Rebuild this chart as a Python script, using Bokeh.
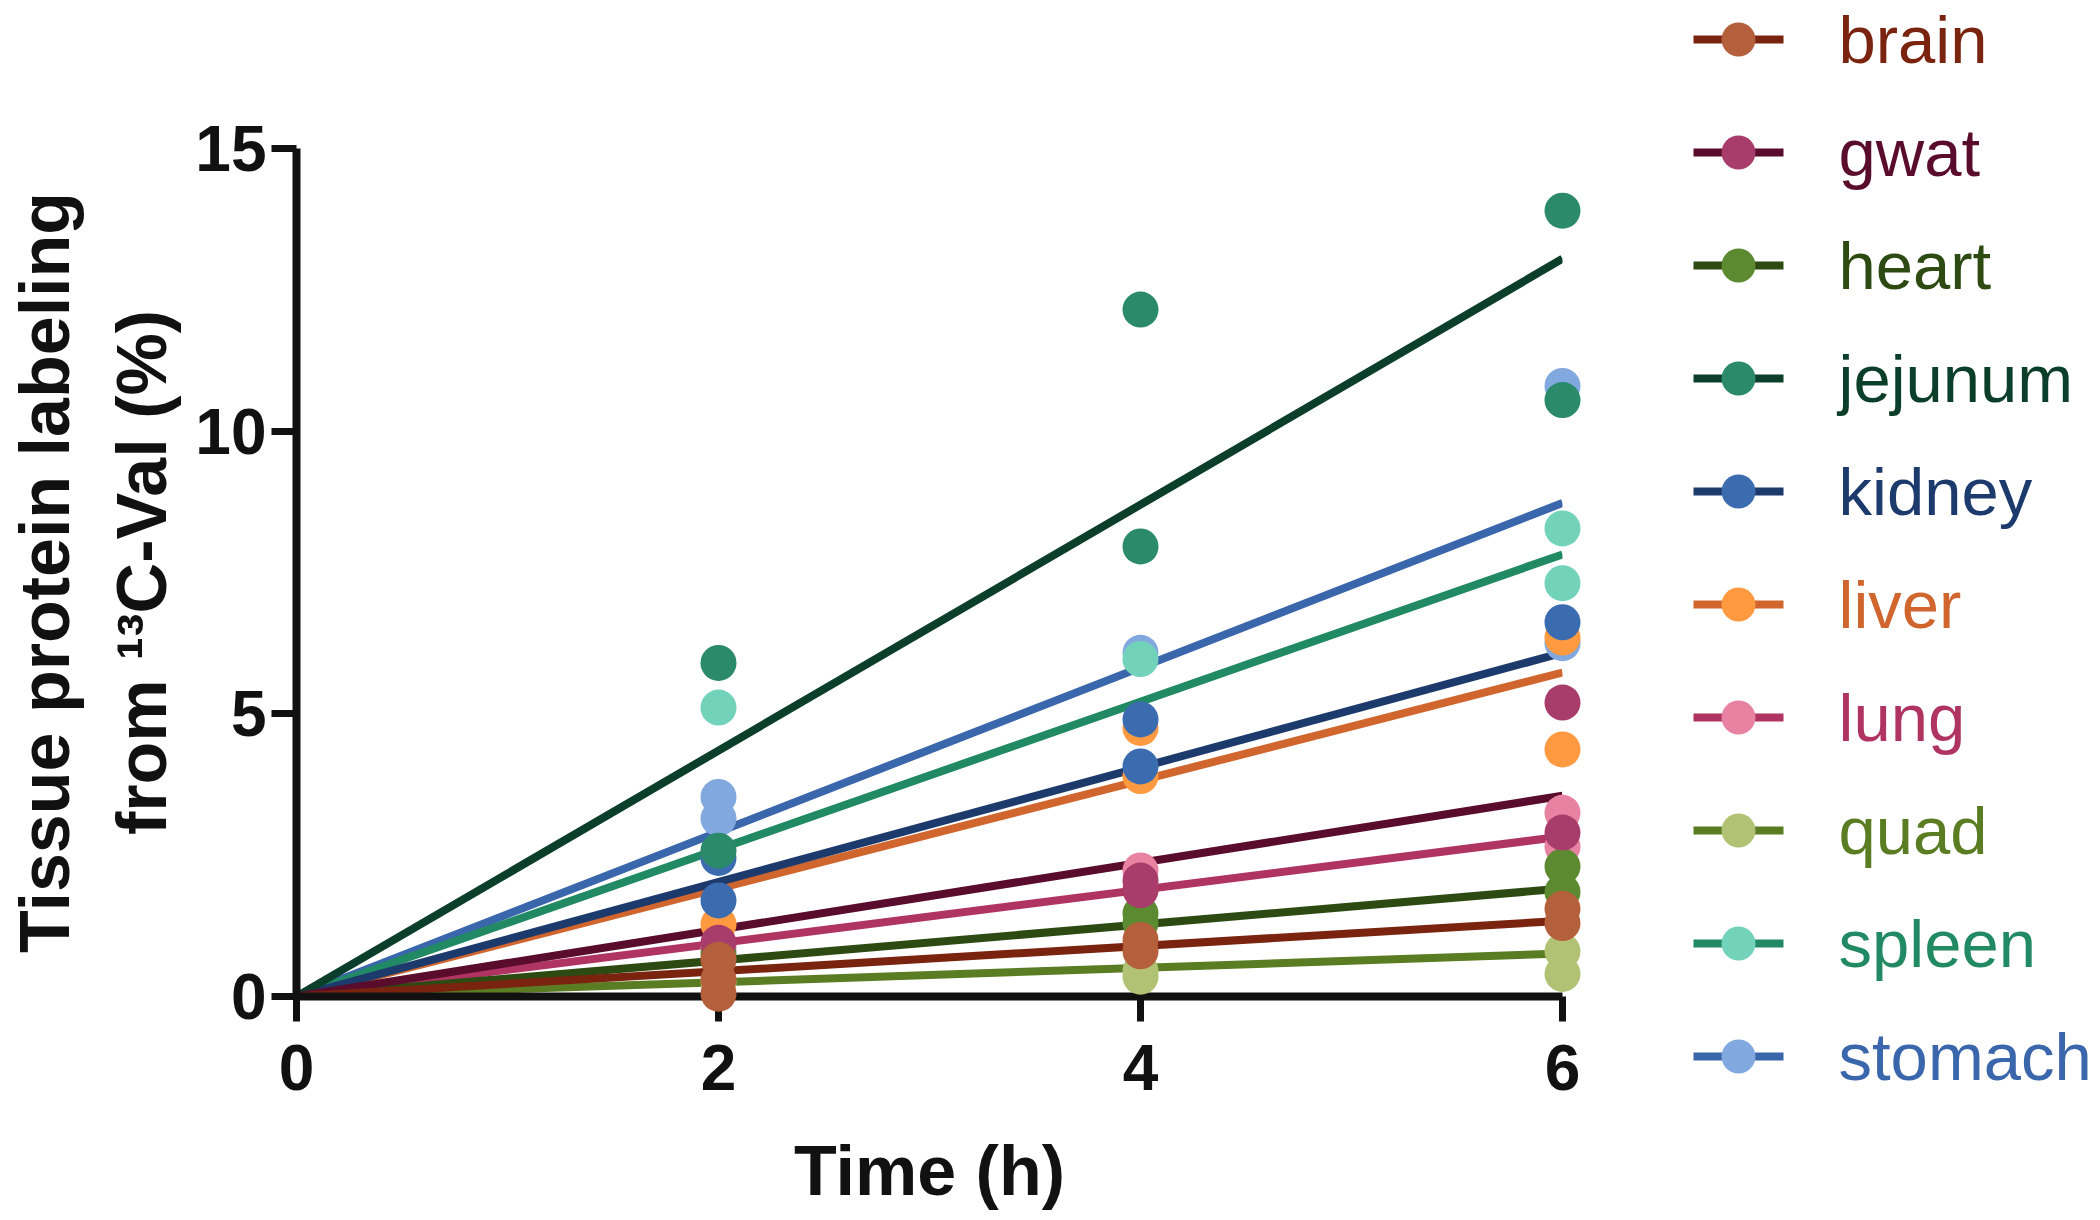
from bokeh.plotting import figure
from bokeh.models import Range1d, FixedTicker
from bokeh.core.properties import value
from bokeh.embed import file_html
from bokeh.resources import INLINE

# ---------------- data ----------------
tissues = ["brain", "gwat", "heart", "jejunum", "kidney",
           "liver", "lung", "quad", "spleen", "stomach"]

brain_time = [2, 2, 2, 4, 4, 6, 6]
brain_val = [0.65, 0.30, 0.05, 1.00, 0.80, 1.55, 1.30]
gwat_time = [2, 4, 4, 6, 6]
gwat_val = [0.95, 2.05, 1.88, 5.20, 2.90]
heart_time = [2, 4, 4, 6, 6]
heart_val = [0.75, 1.47, 1.30, 2.30, 1.85]
jejunum_time = [2, 2, 4, 4, 6, 6]
jejunum_val = [5.90, 2.58, 12.15, 7.96, 13.90, 10.55]
kidney_time = [2, 2, 4, 4, 6]
kidney_val = [2.45, 1.70, 4.90, 4.07, 6.62]
liver_time = [2, 4, 4, 6, 6]
liver_val = [1.28, 4.75, 3.90, 6.35, 4.37]
lung_time = [2, 4, 6, 6]
lung_val = [0.85, 2.23, 3.25, 2.65]
quad_time = [2, 4, 4, 6, 6]
quad_val = [0.25, 0.45, 0.35, 0.80, 0.40]
spleen_time = [2, 4, 6, 6]
spleen_val = [5.11, 5.97, 8.28, 7.31]
stomach_time = [2, 2, 4, 6, 6]
stomach_val = [3.53, 3.15, 6.08, 10.80, 6.25]

# fitted lines (through origin): value at 0 h and at 6 h
fit_time = [0, 6]
fit_start = [0, 0, 0, 0, 0, 0, 0, 0, 0, 0]
fit_end = [1.34, 3.55, 1.91, 13.05, 6.08, 5.73, 2.83, 0.76, 7.82, 8.73]

x_ticks = [0, 2, 4, 6]
y_ticks = [0, 5, 10, 15]

times = [brain_time, gwat_time, heart_time, jejunum_time, kidney_time,
         liver_time, lung_time, quad_time, spleen_time, stomach_time]
vals = [brain_val, gwat_val, heart_val, jejunum_val, kidney_val,
        liver_val, lung_val, quad_val, spleen_val, stomach_val]

# ---------------- styles / layout ----------------
line_colors = ["#7a2410", "#5a0c2c", "#2c4a12", "#0c3e2c", "#1c3a6c",
               "#d0652e", "#b03462", "#5a7c22", "#218a64", "#3a66ac"]
marker_colors = ["#b5603c", "#a83c6a", "#5c8a30", "#2a8a6a", "#3c6cb0",
                 "#ff9a40", "#e882a2", "#b2c274", "#72d2ba", "#82a8e0"]

FONT = "Liberation Sans"
W, H = 2100, 1220
FRAME_L, FRAME_R, FRAME_T, FRAME_B = 296, 1562, 148, 996

# legend placement (pixels from the top-left of the picture)
LEG_LINE_X0, LEG_LINE_X1 = 1693, 1783
LEG_TEXT_X = 1838
LEG_Y0, LEG_PITCH = 39, 113

p = figure(width=W, height=H,
           x_range=Range1d(0, 6), y_range=Range1d(0, 15),
           output_backend="svg", toolbar_location=None,
           min_border_left=FRAME_L, min_border_right=W - FRAME_R,
           min_border_top=FRAME_T, min_border_bottom=H - FRAME_B)

# pixel-space ranges for placing the legend outside the frame
p.extra_x_ranges = {"px": Range1d(FRAME_L, FRAME_R)}
p.extra_y_ranges = {"px": Range1d(FRAME_B, FRAME_T)}

p.grid.visible = False
p.outline_line_color = None
p.background_fill_color = "white"
p.border_fill_color = "white"

for ax in (p.xaxis[0], p.yaxis[0]):
    ax.axis_line_width = 8
    ax.axis_line_color = "#111111"
    ax.major_tick_line_width = 7
    ax.major_tick_line_color = "#111111"
    ax.major_tick_out = 25
    ax.major_tick_in = 0
    ax.minor_tick_line_color = None
    ax.major_label_text_font = FONT
    ax.major_label_text_font_style = "bold"
    ax.major_label_text_font_size = "64px"
    ax.major_label_text_color = "#111111"
    ax.axis_label_text_font = FONT
    ax.axis_label_text_font_style = "bold"
    ax.axis_label_text_font_size = "70px"
    ax.axis_label_text_color = "#111111"

p.xaxis.ticker = FixedTicker(ticks=x_ticks)
p.yaxis.ticker = FixedTicker(ticks=y_ticks)
p.xaxis.major_label_standoff = 23
p.yaxis.major_label_standoff = 5
p.xaxis.axis_label = "Time (h)"
p.xaxis.axis_label_standoff = 39
p.yaxis.axis_label = "Tissue protein labeling\nfrom \u00b9\u00b3C-Val (%)"
p.yaxis.axis_label_standoff = 11
p.yaxis.axis_label_text_line_height = 1.25

# earlier tissues drawn on top -> draw in reverse order
for i in reversed(range(len(tissues))):
    p.line(fit_time, [fit_start[i], fit_end[i]],
           line_color=line_colors[i], line_width=8)
for i in reversed(range(len(tissues))):
    p.scatter(times[i], vals[i], marker="circle", size=36,
              fill_color=marker_colors[i], line_color=None,
              level="overlay")

# ---------------- legend (drawn outside the frame) ----------------
n = len(tissues)
leg_y = [LEG_Y0 + LEG_PITCH * i for i in range(n)]
leg_xc = [(LEG_LINE_X0 + LEG_LINE_X1) / 2] * n
p.segment(x0=[LEG_LINE_X0] * n, x1=[LEG_LINE_X1] * n, y0=leg_y, y1=leg_y,
          line_color=line_colors, line_width=8,
          x_range_name="px", y_range_name="px", level="overlay")
p.ellipse(x=leg_xc, y=leg_y, width=34, height=34,
          width_units="screen", height_units="screen",
          fill_color=marker_colors, line_color=None,
          x_range_name="px", y_range_name="px", level="overlay")
p.text(x=[LEG_TEXT_X] * n, y=leg_y, text=tissues,
       text_color=line_colors, text_font=value(FONT),
       text_font_size="67px", text_baseline="middle", text_align="left",
       x_range_name="px", y_range_name="px", level="overlay")

open("out.html", "w").write(file_html(p, INLINE))
